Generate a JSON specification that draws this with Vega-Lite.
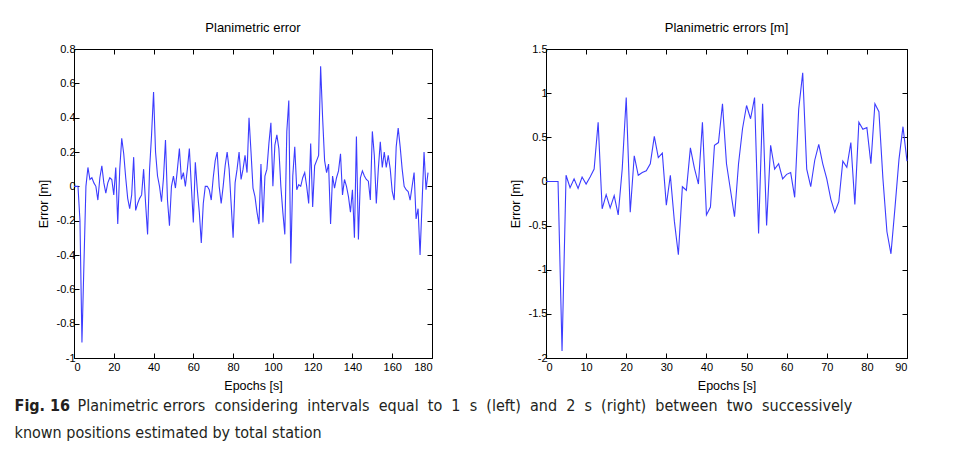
{
  "$schema": "https://vega.github.io/schema/vega-lite/v6.json",
  "background": "white",
  "padding": {"left": 14, "top": 21, "right": 5, "bottom": 5},
  "config": {
    "view": {"stroke": "#000", "strokeWidth": 1},
    "font": "Liberation Sans",
    "axis": {"grid": false, "domain": false, "tickColor": "#000", "tickSize": -5, "labelFont": "Liberation Sans", "labelFontSize": 11, "labelColor": "#000", "titleFont": "Liberation Sans", "titleFontSize": 12.5, "titleFontWeight": "normal", "titleColor": "#000", "labelPadding": 4},
    "title": {"font": "Liberation Sans", "fontSize": 13, "fontWeight": "normal", "color": "#000", "offset": 8}
  },
  "title": {
    "text": "known positions estimated by total station",
    "orient": "bottom", "anchor": "start", "frame": "bounds",
    "font": "DejaVu Sans Condensed", "fontSize": 16, "fontWeight": "normal", "color": "#231f20",
    "offset": 11
  },
  "datasets": {
    "left": [
      {"t":0,"v":0},{"t":1,"v":0},{"t":2,"v":0},{"t":3,"v":-0.2},{"t":4,"v":-0.91},{"t":5,"v":-0.45},{"t":6,"v":0},{"t":7,"v":0.11},{"t":8,"v":0.04},{"t":9,"v":0.05},
      {"t":10,"v":0.02},{"t":11,"v":0},{"t":12,"v":-0.08},{"t":13,"v":0.05},{"t":14,"v":0.12},{"t":15,"v":0.02},{"t":16,"v":-0.04},{"t":17,"v":0.02},{"t":18,"v":0.05},{"t":19,"v":0.04},
      {"t":20,"v":-0.05},{"t":21,"v":0.11},{"t":22,"v":-0.22},{"t":23,"v":0.1},{"t":24,"v":0.28},{"t":25,"v":0.19},{"t":26,"v":0.05},{"t":27,"v":-0.07},{"t":28,"v":-0.13},{"t":29,"v":-0.05},
      {"t":30,"v":0.17},{"t":31,"v":-0.14},{"t":32,"v":-0.1},{"t":33,"v":-0.07},{"t":34,"v":-0.05},{"t":35,"v":0.1},{"t":36,"v":-0.1},{"t":37,"v":-0.28},{"t":38,"v":0.1},{"t":39,"v":0.3},
      {"t":40,"v":0.55},{"t":41,"v":0.2},{"t":42,"v":0.06},{"t":43,"v":0},{"t":44,"v":-0.09},{"t":45,"v":0.05},{"t":46,"v":0.27},{"t":47,"v":-0.08},{"t":48,"v":-0.23},{"t":49,"v":0},
      {"t":50,"v":0.06},{"t":51,"v":-0.01},{"t":52,"v":0.1},{"t":53,"v":0.22},{"t":54,"v":0.04},{"t":55,"v":0.08},{"t":56,"v":0},{"t":57,"v":0.1},{"t":58,"v":0.22},{"t":59,"v":0},
      {"t":60,"v":-0.21},{"t":61,"v":0.14},{"t":62,"v":-0.02},{"t":63,"v":-0.15},{"t":64,"v":-0.33},{"t":65,"v":-0.1},{"t":66,"v":0},{"t":67,"v":0},{"t":68,"v":-0.02},{"t":69,"v":-0.08},
      {"t":70,"v":0.05},{"t":71,"v":0.15},{"t":72,"v":0.2},{"t":73,"v":0},{"t":74,"v":-0.1},{"t":75,"v":0},{"t":76,"v":0.12},{"t":77,"v":0.2},{"t":78,"v":0.1},{"t":79,"v":-0.1},
      {"t":80,"v":-0.3},{"t":81,"v":0.02},{"t":82,"v":0.1},{"t":83,"v":0.2},{"t":84,"v":0.04},{"t":85,"v":0.1},{"t":86,"v":0.18},{"t":87,"v":0.08},{"t":88,"v":0.4},{"t":89,"v":0.2},
      {"t":90,"v":-0.01},{"t":91,"v":-0.06},{"t":92,"v":-0.15},{"t":93,"v":-0.22},{"t":94,"v":0.13},{"t":95,"v":-0.21},{"t":96,"v":0.06},{"t":97,"v":0.1},{"t":98,"v":0.25},{"t":99,"v":0.37},
      {"t":100,"v":0},{"t":101,"v":0.24},{"t":102,"v":0.3},{"t":103,"v":0.22},{"t":104,"v":0},{"t":105,"v":-0.15},{"t":106,"v":-0.28},{"t":107,"v":0.32},{"t":108,"v":0.5},{"t":109,"v":-0.45},
      {"t":110,"v":0.06},{"t":111,"v":0.23},{"t":112,"v":-0.02},{"t":113,"v":0.01},{"t":114,"v":0},{"t":115,"v":0.05},{"t":116,"v":0.08},{"t":117,"v":0},{"t":118,"v":-0.1},{"t":119,"v":0.25},
      {"t":120,"v":-0.12},{"t":121,"v":0.12},{"t":122,"v":0.15},{"t":123,"v":0.18},{"t":124,"v":0.7},{"t":125,"v":0.4},{"t":126,"v":0.15},{"t":127,"v":0.08},{"t":128,"v":0.13},{"t":129,"v":-0.22},
      {"t":130,"v":0.06},{"t":131,"v":-0.01},{"t":132,"v":0.05},{"t":133,"v":0.09},{"t":134,"v":0.19},{"t":135,"v":-0.05},{"t":136,"v":0.04},{"t":137,"v":0},{"t":138,"v":-0.06},{"t":139,"v":-0.15},
      {"t":140,"v":-0.02},{"t":141,"v":-0.3},{"t":142,"v":0.29},{"t":143,"v":-0.31},{"t":144,"v":0.05},{"t":145,"v":0.09},{"t":146,"v":0.06},{"t":147,"v":0.04},{"t":148,"v":0.03},{"t":149,"v":-0.08},
      {"t":150,"v":0.32},{"t":151,"v":0.18},{"t":152,"v":-0.1},{"t":153,"v":0.1},{"t":154,"v":0.26},{"t":155,"v":0.11},{"t":156,"v":0.2},{"t":157,"v":0.11},{"t":158,"v":0.18},{"t":159,"v":0.1},
      {"t":160,"v":-0.03},{"t":161,"v":-0.08},{"t":162,"v":0.23},{"t":163,"v":0.34},{"t":164,"v":0.23},{"t":165,"v":0.1},{"t":166,"v":0},{"t":167,"v":-0.02},{"t":168,"v":-0.03},{"t":169,"v":-0.08},
      {"t":170,"v":0},{"t":171,"v":0.08},{"t":172,"v":-0.19},{"t":173,"v":-0.13},{"t":174,"v":-0.4},{"t":175,"v":-0.1},{"t":176,"v":0.2},{"t":177,"v":-0.02},{"t":178,"v":0.08}
    ],
    "right": [
      {"t":0,"v":0},{"t":1,"v":0},{"t":2,"v":0},{"t":3,"v":0},{"t":4,"v":-1.92},{"t":5,"v":0.07},{"t":6,"v":-0.07},{"t":7,"v":0.03},{"t":8,"v":-0.08},{"t":9,"v":0.05},
      {"t":10,"v":-0.03},{"t":11,"v":0.05},{"t":12,"v":0.14},{"t":13,"v":0.67},{"t":14,"v":-0.31},{"t":15,"v":-0.15},{"t":16,"v":-0.3},{"t":17,"v":-0.16},{"t":18,"v":-0.38},{"t":19,"v":0.14},
      {"t":20,"v":0.95},{"t":21,"v":-0.35},{"t":22,"v":0.29},{"t":23,"v":0.07},{"t":24,"v":0.1},{"t":25,"v":0.12},{"t":26,"v":0.2},{"t":27,"v":0.51},{"t":28,"v":0.27},{"t":29,"v":0.32},
      {"t":30,"v":-0.27},{"t":31,"v":0.07},{"t":32,"v":-0.45},{"t":33,"v":-0.83},{"t":34,"v":-0.06},{"t":35,"v":-0.1},{"t":36,"v":0.38},{"t":37,"v":0.15},{"t":38,"v":-0.03},{"t":39,"v":0.67},
      {"t":40,"v":-0.38},{"t":41,"v":-0.29},{"t":42,"v":0.41},{"t":43,"v":0.44},{"t":44,"v":0.88},{"t":45,"v":0.2},{"t":46,"v":-0.1},{"t":47,"v":-0.4},{"t":48,"v":0.2},{"t":49,"v":0.6},
      {"t":50,"v":0.86},{"t":51,"v":0.71},{"t":52,"v":0.95},{"t":53,"v":-0.59},{"t":54,"v":0.88},{"t":55,"v":-0.5},{"t":56,"v":0.41},{"t":57,"v":0.14},{"t":58,"v":0.2},{"t":59,"v":0.03},
      {"t":60,"v":0.08},{"t":61,"v":0.1},{"t":62,"v":-0.18},{"t":63,"v":0.82},{"t":64,"v":1.23},{"t":65,"v":0.14},{"t":66,"v":-0.06},{"t":67,"v":0.24},{"t":68,"v":0.42},{"t":69,"v":0.2},
      {"t":70,"v":0.03},{"t":71,"v":-0.2},{"t":72,"v":-0.35},{"t":73,"v":-0.23},{"t":74,"v":0.23},{"t":75,"v":0.16},{"t":76,"v":0.44},{"t":77,"v":-0.26},{"t":78,"v":0.67},{"t":79,"v":0.59},
      {"t":80,"v":0.61},{"t":81,"v":0.2},{"t":82,"v":0.88},{"t":83,"v":0.79},{"t":84,"v":0.03},{"t":85,"v":-0.57},{"t":86,"v":-0.82},{"t":87,"v":-0.3},{"t":88,"v":0.25},{"t":89,"v":0.62},
      {"t":90,"v":0.23}
    ]
  },
  "vconcat": [
    {
      "title": {
        "text": "Fig. 16",
        "orient": "bottom", "anchor": "start", "frame": "bounds",
        "font": "DejaVu Sans Condensed", "fontSize": 16, "fontWeight": "bold", "color": "#231f20",
        "offset": -16, "dx": -22
      },
      "vconcat": [
        {
          "title": {
            "text": "Planimetric errors \u00a0considering \u00a0intervals \u00a0equal \u00a0to \u00a01 \u00a0s \u00a0(left) \u00a0and \u00a02 \u00a0s \u00a0(right) \u00a0between \u00a0two \u00a0successively",
            "orient": "bottom", "anchor": "start", "frame": "bounds",
            "font": "DejaVu Sans Condensed", "fontSize": 16, "fontWeight": "normal", "color": "#231f20",
            "offset": 6, "dx": 41
          },
          "spacing": 75,
          "hconcat": [
            {
              "width": 358, "height": 309,
              "title": {"text": "Planimetric error"},
              "data": {"name": "left"},
              "layer": [
                {
                  "mark": {"type": "line", "color": "#3c3cff", "strokeWidth": 1.1},
                  "encoding": {
                    "x": {"field": "t", "type": "quantitative", "scale": {"domain": [0, 180], "nice": false, "zero": false},
                          "axis": {"title": "Epochs [s]", "values": [0,20,40,60,80,100,120,140,160,180], "labelPadding": 8, "titlePadding": 7}},
                    "y": {"field": "v", "type": "quantitative", "scale": {"domain": [-1, 0.8], "nice": false, "zero": false},
                          "axis": {"title": "Error [m]", "values": [-1,-0.8,-0.6,-0.4,-0.2,0,0.2,0.4,0.6,0.8], "labelExpr": "toString(round(datum.value*10)/10)", "titlePadding": 6}}
                  }
                },
                {
                  "mark": {"type": "line", "opacity": 0},
                  "encoding": {
                    "x": {"field": "t", "type": "quantitative", "axis": {"orient": "top", "labels": false, "title": null, "values": [0,20,40,60,80,100,120,140,160,180]}},
                    "y": {"field": "v", "type": "quantitative", "axis": {"orient": "right", "labels": false, "title": null, "values": [-1,-0.8,-0.6,-0.4,-0.2,0,0.2,0.4,0.6,0.8]}}
                  }
                }
              ],
              "resolve": {"axis": {"x": "independent", "y": "independent"}}
            },
            {
              "width": 361, "height": 309,
              "title": {"text": "Planimetric errors [m]"},
              "data": {"name": "right"},
              "layer": [
                {
                  "mark": {"type": "line", "color": "#3c3cff", "strokeWidth": 1.1},
                  "encoding": {
                    "x": {"field": "t", "type": "quantitative", "scale": {"domain": [0, 90], "nice": false, "zero": false},
                          "axis": {"title": "Epochs [s]", "values": [0,10,20,30,40,50,60,70,80,90], "labelPadding": 8, "titlePadding": 7}},
                    "y": {"field": "v", "type": "quantitative", "scale": {"domain": [-2, 1.5], "nice": false, "zero": false},
                          "axis": {"title": "Error [m]", "values": [-2,-1.5,-1,-0.5,0,0.5,1,1.5], "labelExpr": "toString(round(datum.value*10)/10)", "titlePadding": 6}}
                  }
                },
                {
                  "mark": {"type": "line", "opacity": 0},
                  "encoding": {
                    "x": {"field": "t", "type": "quantitative", "axis": {"orient": "top", "labels": false, "title": null, "values": [0,10,20,30,40,50,60,70,80,90]}},
                    "y": {"field": "v", "type": "quantitative", "axis": {"orient": "right", "labels": false, "title": null, "values": [-2,-1.5,-1,-0.5,0,0.5,1,1.5]}}
                  }
                }
              ],
              "resolve": {"axis": {"x": "independent", "y": "independent"}}
            }
          ]
        }
      ]
    }
  ]
}
